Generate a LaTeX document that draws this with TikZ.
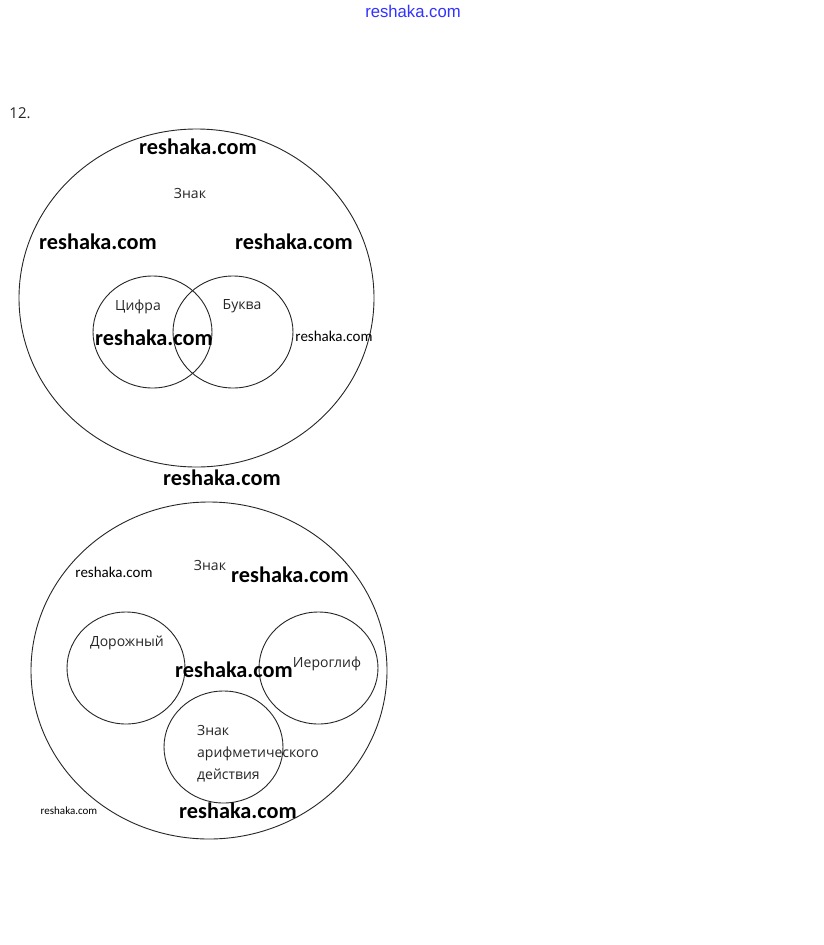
\documentclass[tikz,border=0pt]{standalone}
\usepackage{fontspec}
\setmainfont{Carlito}
\newfontfamily\wmfont{Liberation Sans}
\newfontfamily\lblfont{Open Sans}
\begin{document}
\begin{tikzpicture}[x=1pt,y=-1pt,
  ring/.style={draw=black!85,line width=0.9pt},
  lbl/.style={font=\lblfont\fontsize{14}{16}\selectfont,text=black!85,inner sep=0pt},
  wmbig/.style={font=\fontsize{22.3}{25}\selectfont\bfseries,inner sep=0pt},
  wmsmall/.style={font=\fontsize{15}{17}\selectfont,inner sep=0pt},
  wmtiny/.style={font=\fontsize{11}{13}\selectfont,inner sep=0pt}]
\fill[white] (0,0) rectangle (823,945);
\useasboundingbox (0,0) rectangle (823,945);
% header
\node[inner sep=0pt,text=blue!80!white,font=\wmfont\fontsize{17}{19}\selectfont,xscale=0.98] (hdr) at (413,11) {reshaka.com};
\node[inner sep=0pt,font=\lblfont\fontsize{15}{17}\selectfont,text=black!85] (num) at (20,113) {12.};
% top diagram
\draw[ring] (196.5,298) ellipse [x radius=177.5,y radius=169];
\draw[ring] (152.5,332) ellipse [x radius=59.5,y radius=56];
\draw[ring] (233,332) ellipse [x radius=60,y radius=56];
\node[lbl] (znak1) at (190,193) {Знак};
\node[lbl] (cifra) at (138,307) {Цифра};
\node[lbl] (bukva) at (242,306) {Буква};
\node[wmbig] (w1) at (198,147) {reshaka.com};
\node[wmbig] (w2) at (98,242) {reshaka.com};
\node[wmbig] (w3) at (294,242) {reshaka.com};
\node[wmbig] (w4) at (154,338) {reshaka.com};
\node[wmsmall] (w5) at (334,336) {reshaka.com};
\node[wmbig] (w6) at (222,478) {reshaka.com};
% bottom diagram
\draw[ring] (209,670.5) ellipse [x radius=178,y radius=168.5];
\draw[ring] (126,668) ellipse [x radius=59,y radius=56];
\draw[ring] (318.5,668) ellipse [x radius=59.5,y radius=56];
\draw[ring] (223.5,747) ellipse [x radius=59.5,y radius=56];
\node[lbl] (znak2) at (210,565) {Знак};
\node[lbl] (dor) at (127,643) {Дорожный};
\node[lbl] (ier) at (327,664) {Иероглиф};
\node[lbl,anchor=north west,align=left,font=\lblfont\fontsize{14}{22}\selectfont] (arif) at (197,725) {Знак\\арифметического\\действия};
\node[wmbig] (w7) at (290,575) {reshaka.com};
\node[wmbig] (w8) at (234,670) {reshaka.com};
\node[wmbig] (w9) at (238,811) {reshaka.com};
\node[wmsmall] (w10) at (114,572) {reshaka.com};
\node[wmtiny] (w11) at (69,811) {reshaka.com};
\end{tikzpicture}
\end{document}
